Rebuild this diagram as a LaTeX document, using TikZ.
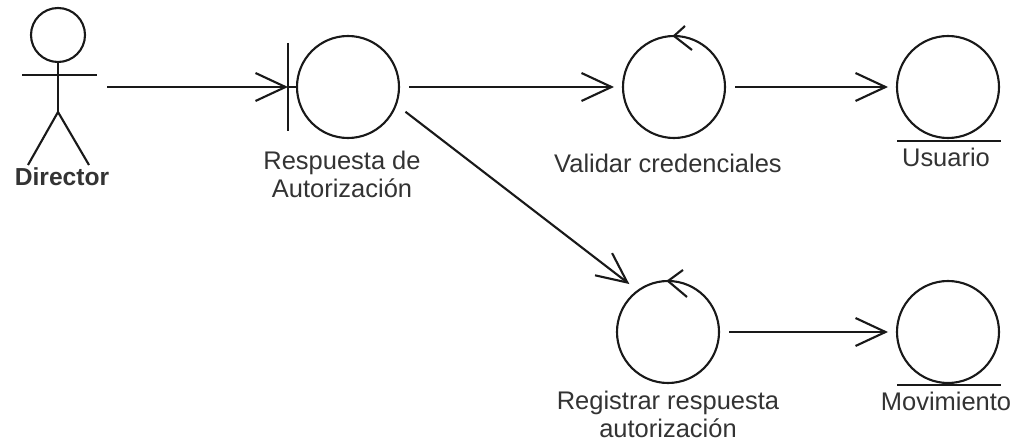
\documentclass[tikz,border=0pt]{standalone}
\usepackage{fontspec}
\setmainfont{Liberation Sans}
\usetikzlibrary{arrows.meta}

\begin{document}
\begin{tikzpicture}[
  line width=1.2pt, draw=black!90,
  obj/.style={draw, circle, minimum size=2.04cm, inner sep=0pt, outer sep=0pt},
  msg/.style={-{Straight Barb[length=0.6cm,width=0.56cm]}, shorten <=0.2cm, shorten >=0.18cm},
  txt/.style={font=\fontsize{14.5}{16}\selectfont, text=black!80, align=center, inner sep=0pt, anchor=base}
]
  % page size
  \useasboundingbox (0,0) rectangle (20.32,8.92);

  % actor
  \draw (1.16,8.22) circle (0.54);
  \draw (1.16,7.68) -- (1.16,6.68);
  \draw (0.44,7.42) -- (1.94,7.42);
  \draw (0.56,5.62) -- (1.16,6.68) -- (1.78,5.62);
  \node[txt, font=\fontsize{14}{16}\selectfont\bfseries] (director) at (1.24,5.20) {Director};
  \coordinate (director-out) at (2.14,7.18);

  % objects
  \node[obj] (resp) at (6.96,7.18) {};
  \node[obj] (val) at (13.48,7.18) {};
  \node[obj] (usu) at (18.96,7.18) {};
  \node[obj] (reg) at (13.36,2.28) {};
  \node[obj] (mov) at (18.96,2.28) {};

  % boundary bar
  \coordinate (resp-bar) at ([xshift=-0.18cm]resp.west);
  \draw (resp-bar) ++(0,0.88) -- ++(0,-1.76);
  \draw (resp-bar) -- (resp.west);

  % control arrows
  \draw ([shift={(0.22,0.2)}]val.north) -- (val.north) -- ([shift={(0.36,-0.28)}]val.north);
  \draw ([shift={(0.3,0.22)}]reg.north) -- (reg.north) -- ([shift={(0.38,-0.32)}]reg.north);

  % entity lines
  \draw (usu.west |- usu.south) ++(0,-0.06) -- ++(2.08,0);
  \draw (mov.west |- mov.south) ++(0,-0.04) -- ++(2.08,0);

  % labels
  \node[txt] (resp-label) at (6.84,4.96) {Respuesta de\\Autorización};
  \node[txt] (val-label) at (13.36,5.46) {Validar credenciales};
  \node[txt] (usu-label) at (18.92,5.58) {Usuario};
  \node[txt] (reg-label) at (13.36,0.16) {Registrar respuesta\\autorización};
  \node[txt] (mov-label) at (18.92,0.70) {Movimiento};

  % messages
  \draw[msg, shorten <=0pt, shorten >=0pt] (director-out) -- (resp-bar);
  \draw[msg] (resp.east) -- (val.west);
  \draw[msg] (val.east) -- (usu.west);
  \draw[msg, shorten <=0.24cm, shorten >=0.22cm] (resp.-20) -- (reg.126);
  \draw[msg] (reg.east) -- (mov.west);
\end{tikzpicture}
\end{document}
